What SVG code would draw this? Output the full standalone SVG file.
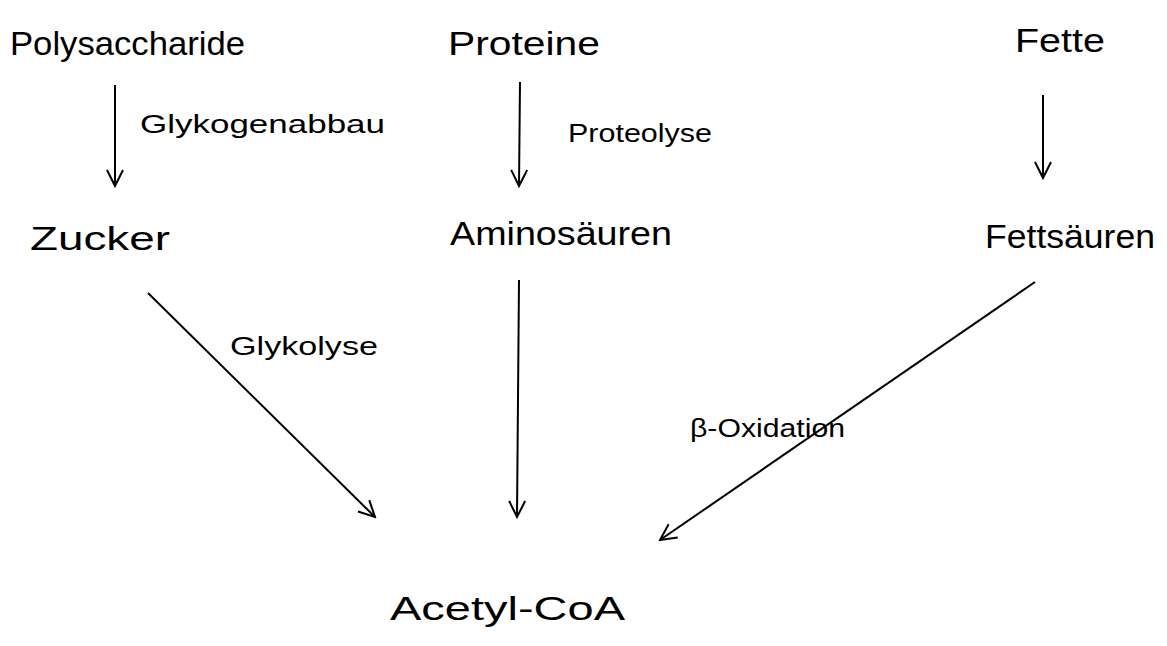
<svg xmlns="http://www.w3.org/2000/svg" width="1167" height="646" viewBox="0 0 1167 646">
<style>
.t{font-family:"Liberation Sans",Arial,sans-serif;font-size:34px;fill:#000}
.l{font-family:"Liberation Sans",Arial,sans-serif;font-size:26px;fill:#000}
.c{stroke:#000;stroke-width:2;fill:none}
</style>
<defs>
<marker id="ah" viewBox="0 0 20 20" refX="18" refY="10" markerWidth="20" markerHeight="20" markerUnits="userSpaceOnUse" orient="auto">
<path d="M2,2 L18,10 L2,18" fill="none" stroke="#000" stroke-width="2"/>
</marker>
</defs>
<rect width="1167" height="646" fill="#fff"/>
<g id="connectors">
<line class="c" x1="115" y1="85" x2="115" y2="186" marker-end="url(#ah)"/>
<line class="c" x1="520" y1="82" x2="519" y2="186" marker-end="url(#ah)"/>
<line class="c" x1="1043" y1="95" x2="1043" y2="178" marker-end="url(#ah)"/>
<line class="c" x1="148" y1="293" x2="375" y2="517" marker-end="url(#ah)"/>
<line class="c" x1="519" y1="280" x2="517" y2="517" marker-end="url(#ah)"/>
<line class="c" x1="1035" y1="282" x2="660" y2="540" marker-end="url(#ah)"/>
<text class="l" x="140" y="133" textLength="245" lengthAdjust="spacingAndGlyphs">Glykogenabbau</text>
<text class="l" x="568" y="142" textLength="144" lengthAdjust="spacingAndGlyphs">Proteolyse</text>
<text class="l" x="230" y="355" textLength="148" lengthAdjust="spacingAndGlyphs">Glykolyse</text>
<text class="l" x="690" y="437" textLength="155" lengthAdjust="spacingAndGlyphs">β-Oxidation</text>
</g>
<g id="polysaccharide"><text class="t" x="10" y="55" textLength="235" lengthAdjust="spacingAndGlyphs">Polysaccharide</text></g>
<g id="proteine"><text class="t" x="448" y="55" textLength="152" lengthAdjust="spacingAndGlyphs">Proteine</text></g>
<g id="fette"><text class="t" x="1015" y="52" textLength="90" lengthAdjust="spacingAndGlyphs">Fette</text></g>
<g id="zucker"><text class="t" x="30" y="250" textLength="140" lengthAdjust="spacingAndGlyphs">Zucker</text></g>
<g id="aminosaeuren"><text class="t" x="450" y="245" textLength="222" lengthAdjust="spacingAndGlyphs">Aminosäuren</text></g>
<g id="fettsaeuren"><text class="t" x="985" y="248" textLength="170" lengthAdjust="spacingAndGlyphs">Fettsäuren</text></g>
<g id="acetylcoa"><text class="t" x="390" y="620" textLength="235" lengthAdjust="spacingAndGlyphs">Acetyl-CoA</text></g>
</svg>
